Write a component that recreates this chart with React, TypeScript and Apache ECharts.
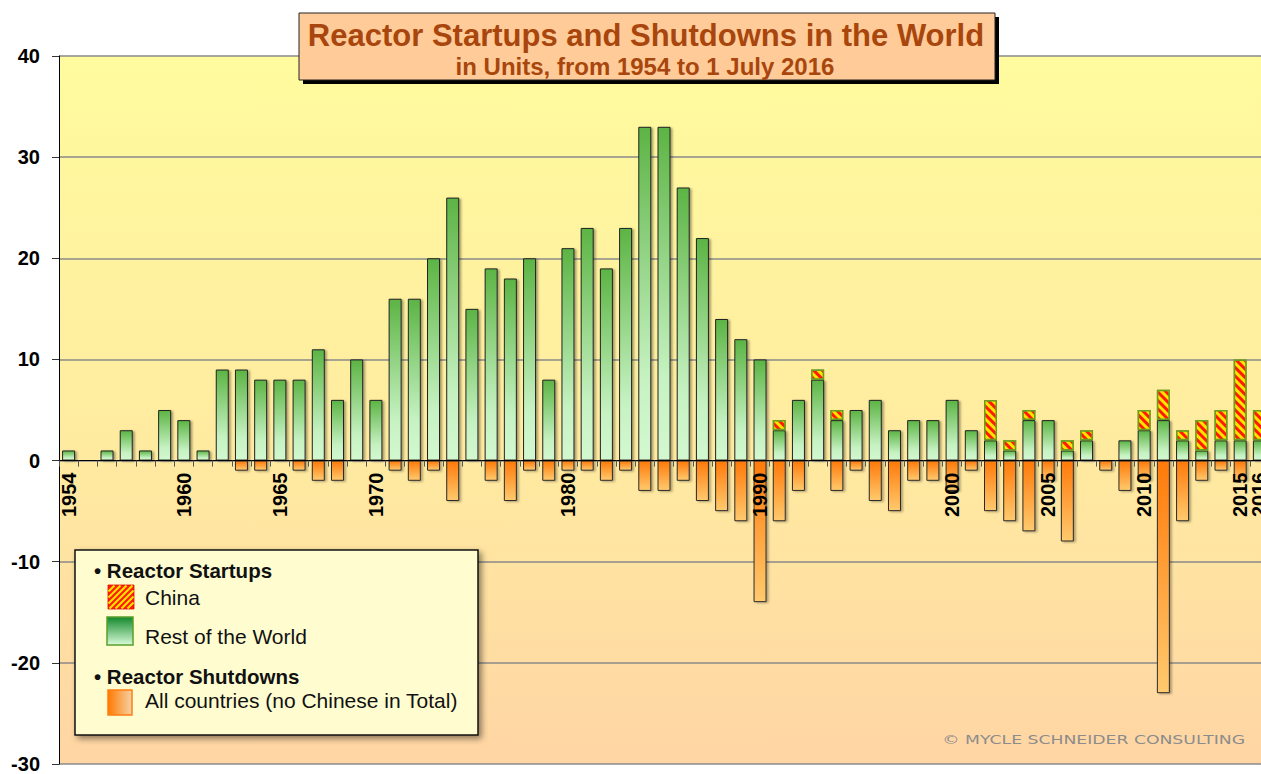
import React, { useEffect, useRef } from 'react';
import * as echarts from 'echarts';

const YEARS = [
  '1954', '1955', '1956', '1957', '1958', '1959', '1960', '1961', '1962', '1963',
  '1964', '1965', '1966', '1967', '1968', '1969', '1970', '1971', '1972', '1973',
  '1974', '1975', '1976', '1977', '1978', '1979', '1980', '1981', '1982', '1983',
  '1984', '1985', '1986', '1987', '1988', '1989', '1990', '1991', '1992', '1993',
  '1994', '1995', '1996', '1997', '1998', '1999', '2000', '2001', '2002', '2003',
  '2004', '2005', '2006', '2007', '2008', '2009', '2010', '2011', '2012', '2013',
  '2014', '2015', '2016',
];

// Reactor startups outside China
const REST_OF_WORLD = [
  1, 0, 1, 3, 1, 5, 4, 1, 9, 9,
  8, 8, 8, 11, 6, 10, 6, 16, 16, 20,
  26, 15, 19, 18, 20, 8, 21, 23, 19, 23,
  33, 33, 27, 22, 14, 12, 10, 3, 6, 8,
  4, 5, 6, 3, 4, 4, 6, 3, 2, 1,
  4, 4, 1, 2, 0, 2, 3, 4, 2, 1,
  2, 2, 2,
];

// Reactor startups in China
const CHINA = [
  0, 0, 0, 0, 0, 0, 0, 0, 0, 0,
  0, 0, 0, 0, 0, 0, 0, 0, 0, 0,
  0, 0, 0, 0, 0, 0, 0, 0, 0, 0,
  0, 0, 0, 0, 0, 0, 0, 1, 0, 1,
  1, 0, 0, 0, 0, 0, 0, 0, 4, 1,
  1, 0, 1, 1, 0, 0, 2, 3, 1, 3,
  3, 8, 3,
];

// Reactor shutdowns, all countries
const SHUTDOWNS = [
  0, 0, 0, 0, 0, 0, 0, 0, 0, -1,
  -1, 0, -1, -2, -2, 0, 0, -1, -2, -1,
  -4, 0, -2, -4, -1, -2, -1, -1, -2, -1,
  -3, -3, -2, -4, -5, -6, -14, -6, -3, 0,
  -3, -1, -4, -5, -2, -2, -3, -1, -5, -6,
  -7, -2, -8, 0, -1, -3, -2, -23, -6, -2,
  -1, -2, 0,
];

const X_LABELS = ['1954', '1960', '1965', '1970', '1980', '1990', '2000', '2005', '2010', '2015', '2016'];

const Y_MIN = -30;
const Y_MAX = 40;
const Y_STEP = 10;

const TITLE = 'Reactor Startups and Shutdowns in the World';
const SUBTITLE = 'in Units, from 1954 to 1 July 2016';
const LEGEND_STARTUPS = '• Reactor Startups';
const LEGEND_CHINA = 'China';
const LEGEND_ROW = 'Rest of the World';
const LEGEND_SHUTDOWNS = '• Reactor Shutdowns';
const LEGEND_ALL = 'All countries (no Chinese in Total)';
const COPYRIGHT = '© MYCLE SCHNEIDER CONSULTING';

const FONT = '"Liberation Sans", Arial, Helvetica, sans-serif';

const CHART_W = 1261;
const CHART_H = 774;
const GRID_TOP = 56;
const GRID_BOTTOM = 10;

function stripeLines(x0: number, y0: number, x1: number, y1: number, period: number) {
  const out: any[] = [];
  for (let c = x0 + y0; c <= x1 + y1; c += period) {
    const sx = Math.max(x0, c - y1);
    const ex = Math.min(x1, c - y0);
    if (ex - sx > 0.5) {
      out.push({
        type: 'line',
        shape: { x1: sx, y1: c - sx, x2: ex, y2: c - ex },
        style: { stroke: '#FFE400', lineWidth: 2.2 },
        z: 102,
      });
    }
  }
  return out;
}

export default function App() {
  const ref = useRef<HTMLDivElement>(null);

  useEffect(() => {
    if (!ref.current) return;
    const chart = echarts.init(ref.current, null, { renderer: 'svg' });

    const nz = (v: number) => (v === 0 ? null : v);
    // move the category axis (line, ticks, labels) up to the value 0
    const gridHeight = CHART_H - GRID_TOP - GRID_BOTTOM;
    const zeroOffset = -((0 - Y_MIN) / (Y_MAX - Y_MIN)) * gridHeight;
    const lastLabel = X_LABELS[X_LABELS.length - 1];

    const xLabelStyle = {
      rotate: 90,
      margin: 12,
      fontSize: 20,
      fontWeight: 'bold',
      color: '#000',
      fontFamily: FONT,
    };

    const option: any = {
      animation: false,
      grid: {
        left: 59,
        right: -8,
        top: GRID_TOP,
        bottom: GRID_BOTTOM,
        show: true,
        borderWidth: 0,
        containLabel: false,
        outerBoundsMode: 'none',
        backgroundColor: new echarts.graphic.LinearGradient(0, 0, 0, 1, [
          { offset: 0, color: '#FFFB9E' },
          { offset: 0.55, color: '#FFEBA0' },
          { offset: 1, color: '#FFD5A4' },
        ]),
      },
      xAxis: [
        {
          type: 'category',
          data: YEARS,
          position: 'bottom',
          offset: zeroOffset,
          z: 5,
          axisLine: { onZero: false, lineStyle: { color: '#000', width: 1 } },
          axisTick: { show: true, interval: 0, length: 6, lineStyle: { color: '#555' } },
          axisLabel: {
            ...xLabelStyle,
            interval: (_i: number, v: string) => X_LABELS.includes(v) && v !== lastLabel,
          },
          splitLine: { show: false },
        },
        {
          type: 'category',
          data: YEARS,
          position: 'bottom',
          offset: zeroOffset,
          z: 5,
          axisLine: { show: false, onZero: false },
          axisTick: { show: false },
          axisLabel: {
            ...xLabelStyle,
            interval: (_i: number, v: string) => v === lastLabel,
            showMaxLabel: true,
          },
          splitLine: { show: false },
        },
      ],
      yAxis: {
        type: 'value',
        min: Y_MIN,
        max: Y_MAX,
        interval: Y_STEP,
        axisLine: { show: true, lineStyle: { color: '#000', width: 1 } },
        axisTick: { show: true, length: 7, lineStyle: { color: '#333' } },
        axisLabel: { margin: 19, fontSize: 20, fontWeight: 'bold', color: '#000', fontFamily: FONT },
        splitLine: { show: true, lineStyle: { color: '#8A8A8A', width: 1.5 } },
      },
      series: [
        {
          name: LEGEND_ROW,
          type: 'bar',
          stack: 'total',
          barWidth: 13,
          data: REST_OF_WORLD.map(nz),
          itemStyle: {
            color: new echarts.graphic.LinearGradient(0, 0, 0, 1, [
              { offset: 0, color: '#5CB444' },
              { offset: 0.75, color: '#C6F2C2' },
              { offset: 1, color: '#D3F8D0' },
            ]),
            borderColor: '#222',
            borderWidth: 1,
            shadowColor: 'rgba(0,0,0,0.35)',
            shadowOffsetX: 2,
            shadowOffsetY: 1,
            shadowBlur: 2,
          },
        },
        {
          name: LEGEND_CHINA,
          type: 'bar',
          stack: 'total',
          barWidth: 13,
          data: CHINA.map(nz),
          itemStyle: {
            color: '#FF1A00',
            borderColor: '#6E9C20',
            borderWidth: 1.5,
            decal: {
              symbol: 'rect',
              symbolSize: 1,
              color: '#FFE400',
              dashArrayX: [1, 0],
              dashArrayY: [3, 3],
              rotation: Math.PI / 4,
            },
          },
        },
        {
          name: LEGEND_ALL,
          type: 'bar',
          stack: 'total',
          barWidth: 13,
          data: SHUTDOWNS.map(nz),
          itemStyle: {
            color: new echarts.graphic.LinearGradient(0, 0, 0, 1, [
              { offset: 0, color: '#FF7A0A' },
              { offset: 1, color: '#FFCA6E' },
            ]),
            borderColor: '#2a2a2a',
            borderWidth: 1,
            shadowColor: 'rgba(0,0,0,0.3)',
            shadowOffsetX: 2,
            shadowOffsetY: 1,
            shadowBlur: 2,
          },
        },
      ],
      graphic: [
        // title box
        { type: 'rect', shape: { x: 303, y: 17, width: 696, height: 67 }, style: { fill: '#000' }, z: 100 },
        {
          type: 'rect',
          shape: { x: 299, y: 13, width: 696, height: 67 },
          style: { fill: '#FFCC99', stroke: '#222', lineWidth: 1 },
          z: 101,
        },
        {
          type: 'text',
          x: 646,
          y: 35,
          z: 102,
          style: {
            text: TITLE,
            fill: '#A8460E',
            fontSize: 31,
            fontWeight: 'bold',
            fontFamily: FONT,
            align: 'center',
            verticalAlign: 'middle',
          },
        },
        {
          type: 'text',
          x: 645,
          y: 66,
          z: 102,
          style: {
            text: SUBTITLE,
            fill: '#A8460E',
            fontSize: 24,
            fontWeight: 'bold',
            fontFamily: FONT,
            align: 'center',
            verticalAlign: 'middle',
          },
        },
        // legend box
        {
          type: 'rect',
          shape: { x: 75, y: 550, width: 403, height: 185 },
          style: {
            fill: '#FFFDD0',
            stroke: '#111',
            lineWidth: 1.5,
            shadowBlur: 6,
            shadowOffsetX: 3,
            shadowOffsetY: 3,
            shadowColor: 'rgba(0,0,0,0.45)',
          },
          z: 100,
        },
        {
          type: 'text', x: 94, y: 570, z: 102,
          style: { text: LEGEND_STARTUPS, fill: '#111', fontSize: 20.5, fontWeight: 'bold', fontFamily: FONT, align: 'left', verticalAlign: 'middle' },
        },
        { type: 'rect', shape: { x: 108, y: 585, width: 26, height: 24 }, style: { fill: '#FF1A00', stroke: '#E01000', lineWidth: 0.8 }, z: 101 },
        ...stripeLines(108.5, 585.5, 133.5, 608.5, 6),
        {
          type: 'text', x: 145, y: 597, z: 102,
          style: { text: LEGEND_CHINA, fill: '#111', fontSize: 21, fontFamily: FONT, align: 'left', verticalAlign: 'middle' },
        },
        {
          type: 'rect',
          shape: { x: 107, y: 617, width: 26, height: 28 },
          style: {
            fill: new echarts.graphic.LinearGradient(0, 0, 0, 1, [
              { offset: 0, color: '#14892C' },
              { offset: 1, color: '#D8FBD8' },
            ]),
            stroke: '#5A9E2B',
            lineWidth: 1.5,
          },
          z: 101,
        },
        {
          type: 'text', x: 145, y: 636, z: 102,
          style: { text: LEGEND_ROW, fill: '#111', fontSize: 21, fontFamily: FONT, align: 'left', verticalAlign: 'middle' },
        },
        {
          type: 'text', x: 94, y: 676, z: 102,
          style: { text: LEGEND_SHUTDOWNS, fill: '#111', fontSize: 20.5, fontWeight: 'bold', fontFamily: FONT, align: 'left', verticalAlign: 'middle' },
        },
        {
          type: 'rect',
          shape: { x: 108, y: 690, width: 24, height: 25 },
          style: {
            fill: new echarts.graphic.LinearGradient(0, 0, 1, 0, [
              { offset: 0, color: '#FF7A00' },
              { offset: 1, color: '#F6D2A6' },
            ]),
            stroke: '#FF7E10',
            lineWidth: 1.5,
          },
          z: 101,
        },
        {
          type: 'text', x: 145, y: 700, z: 102,
          style: { text: LEGEND_ALL, fill: '#111', fontSize: 21, fontFamily: FONT, align: 'left', verticalAlign: 'middle' },
        },
        // copyright
        {
          type: 'text', x: 1245, y: 740, z: 102, scaleX: 1.38,
          style: { text: COPYRIGHT, fill: '#8C8C8C', fontSize: 12.5, fontFamily: '"DejaVu Sans", sans-serif', align: 'right', verticalAlign: 'middle' },
        },
      ],
    };

    chart.setOption(option);
    return () => chart.dispose();
  }, []);

  return (
    <div
      ref={ref}
      style={{ position: 'fixed', left: 0, top: 0, width: CHART_W, height: CHART_H, background: '#fff' }}
    />
  );
}
